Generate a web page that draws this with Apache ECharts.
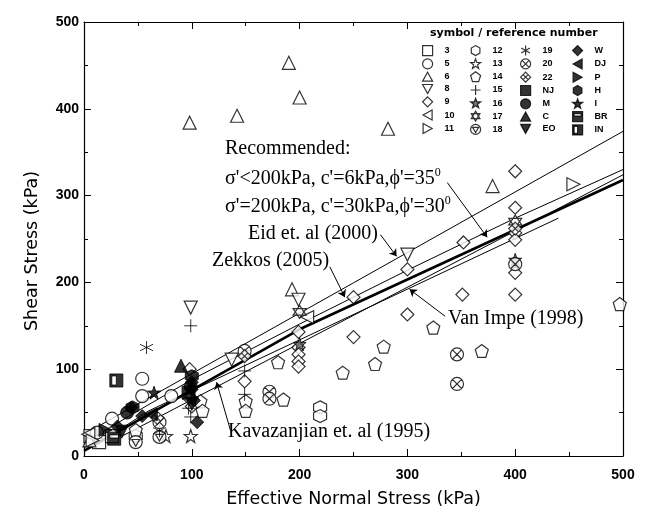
<!DOCTYPE html>
<html>
<head>
<meta charset="utf-8">
<script src="https://cdn.jsdelivr.net/npm/echarts@6/dist/echarts.min.js"></script>
<style>
  html, body { margin: 0; padding: 0; background: #fff; }
  #main { width: 648px; height: 513px; }
</style>
</head>
<body>
<div id="main"></div>
<script>
// axis ticks
var xTicks = [0, 100, 200, 300, 400, 500];
var yTicks = [0, 100, 200, 300, 400, 500];

// data points, [effective normal stress, shear stress] in kPa
var ref3 = [[6, 23], [14, 16], [26, 23]];
var ref5 = [[12, 27], [26, 43], [54, 89], [54, 69], [81, 69]];
var ref6 = [[98, 384], [142, 392], [190, 453], [200, 413], [282, 377], [379, 311], [193, 192], [5, 18]];
var ref8 = [[99, 171], [199, 180], [300, 232], [137, 111]];
var ref9 = [[400, 328], [400, 286], [400, 257], [400, 249], [352, 246], [300, 215], [400, 211], [351, 186],
            [400, 186], [300, 163], [250, 183], [250, 137], [199, 143], [199, 125], [199, 117], [199, 109],
            [199, 103], [149, 86], [98, 100], [98, 66], [100, 57]];
var ref10 = [[207, 160], [4, 25]];
var ref11 = [[454, 313], [8, 18]];
var ref12 = [[219, 56], [219, 46], [48, 23]];
var ref13 = [[76, 23], [99, 23]];
var ref14 = [[180, 108], [240, 96], [270, 106], [278, 126], [324, 148], [369, 121], [497, 175], [185, 65],
             [150, 63], [150, 52], [108, 63], [110, 52], [48, 30]];
var ref15 = [[99, 150], [99, 45], [149, 98], [149, 71], [97, 55]];
var ref16 = [[400, 226], [200, 129]];
var ref17 = [[400, 270], [200, 166]];
var ref18 = [[48, 16], [70, 22]];
var ref19 = [[58, 125], [70, 29]];
var ref20 = [[172, 74], [172, 66], [346, 117], [346, 83], [149, 121], [400, 221], [70, 39]];
var ref22 = [[149, 115], [400, 262], [68, 44]];
var refNJ = [[97, 73]];
var refM = [[99, 80], [40, 50]];
var refC = [[90, 104]];
var refEO = [[35, 28], [100, 60]];
var refW = [[100, 85], [100, 77], [105, 39], [44, 56], [31, 34], [54, 46], [102, 64]];
var refDJ = [[62, 48]];
var refP = [[20, 30]];
var refH = [[45, 56], [100, 92]];
var refI = [[65, 73]];
var refBR = [[28, 20]];
var refIN = [[30, 87]];

// strength envelopes
var eidLine = [[0, 25], [500, 374]];
var zekkosLine = [[0, 15], [50, 52], [100, 88], [200, 152], [300, 214], [400, 274], [500, 330]];
var recLine = [[0, 6], [200, 146], [500, 318]];
var kavLine = [[0, 24], [37, 24], [500, 324]];
var vanImpeLine = [[0, 20], [20, 20], [60, 52], [440, 274]];

// leader arrows (from label to envelope)
var recArrow = [[337, 315], [374, 252]];
var eidArrow = [[275, 255], [290, 230]];
var zekkosArrow = [[228, 218], [242, 183]];
var vanImpeArrow = [[335, 161], [302, 192]];
var kavArrow = [[136, 29], [123, 85]];

var star = 'M5,0L6.18,3.38L9.76,3.45L6.9,5.62L7.94,9.05L5,7L2.06,9.05L3.1,5.62L0.24,3.45L3.82,3.38Z';
var circ = 'M10,5A5,5,0,1,1,0,5A5,5,0,1,1,10,5Z';
var dia = 'M5,0L10,5L5,10L0,5Z';
var shp = {
  square: 'path://M0,0L10,0L10,10L0,10Z',
  circle: 'path://' + circ,
  triUp: 'path://M5,0L10,9L0,9Z',
  triDown: 'path://M0,0L10,0L5,9Z',
  triLeft: 'path://M0,5L9,0L9,10Z',
  triRight: 'path://M0,0L9,5L0,10Z',
  diamond: 'path://' + dia,
  hexagon: 'path://M5,0L9.3,2.5L9.3,7.5L5,10L0.7,7.5L0.7,2.5Z',
  pentagon: 'path://M5,0L10,3.8L8.1,10L1.9,10L0,3.8Z',
  star: 'path://' + star,
  plus: 'path://M5,0L5,10M0,5L10,5',
  asterisk: 'path://M5,0L5,10M0.7,2.5L9.3,7.5M0.7,7.5L9.3,2.5',
  hexagram: 'path://M5,0L9.3,7.5L0.7,7.5ZM5,10L0.7,2.5L9.3,2.5Z',
  circleX: 'path://' + circ + 'M1.5,1.5L8.5,8.5M8.5,1.5L1.5,8.5',
  circleTri: 'path://' + circ + 'M2,3L8,3L5,8.2Z',
  diamondX: 'path://' + dia + 'M2.5,2.5L7.5,7.5M7.5,2.5L2.5,7.5',
  squareBR: 'path://M0,0L10,0L10,10L0,10ZM1.5,2L1.5,4.5L8.5,4.5L8.5,2Z',
  squareIN: 'path://M0,0L10,0L10,10L0,10ZM1.5,1.5L1.5,8.5L5,8.5L5,1.5Z'
};

var hollow = { color: '#fff', borderColor: '#000', borderWidth: 1.2 };
var solid = { color: '#000', borderColor: '#000', borderWidth: 1 };
var grey = { color: '#555', borderColor: '#000', borderWidth: 1 };

var refs = [
  ['3', ref3, shp.square, hollow], ['5', ref5, shp.circle, hollow], ['6', ref6, shp.triUp, hollow],
  ['8', ref8, shp.triDown, hollow], ['9', ref9, shp.diamond, hollow], ['10', ref10, shp.triLeft, hollow],
  ['11', ref11, shp.triRight, hollow],
  ['12', ref12, shp.hexagon, hollow], ['13', ref13, shp.star, hollow], ['14', ref14, shp.pentagon, hollow],
  ['15', ref15, shp.plus, solid], ['16', ref16, shp.star, grey], ['17', ref17, shp.hexagram, hollow],
  ['18', ref18, shp.circleTri, hollow],
  ['19', ref19, shp.asterisk, solid], ['20', ref20, shp.circleX, hollow], ['22', ref22, shp.diamondX, hollow],
  ['NJ', refNJ, shp.square, solid], ['M', refM, shp.circle, solid], ['C', refC, shp.triUp, solid],
  ['EO', refEO, shp.triDown, solid],
  ['W', refW, shp.diamond, solid], ['DJ', refDJ, shp.triLeft, solid], ['P', refP, shp.triRight, solid],
  ['H', refH, shp.hexagon, solid], ['I', refI, shp.star, solid], ['BR', refBR, shp.squareBR, solid],
  ['IN', refIN, shp.squareIN, solid]
];

var series = [];
function envelope(data, w) {
  series.push({ type: 'line', data: data, symbol: 'none', z: 1,
    lineStyle: { color: '#000', width: w } });
}
envelope(eidLine, 1);
envelope(zekkosLine, 1);
envelope(kavLine, 1);
envelope(vanImpeLine, 1);
envelope(recLine, 2.6);

[recArrow, eidArrow, zekkosArrow, vanImpeArrow, kavArrow].forEach(function (a) {
  series.push({ type: 'lines', coordinateSystem: 'cartesian2d', z: 4,
    symbol: ['none', 'arrow'], symbolSize: 7,
    lineStyle: { color: '#000', width: 1, opacity: 1 },
    data: [{ coords: a }] });
});

refs.forEach(function (r) {
  series.push({ type: 'scatter', name: r[0], data: r[1], symbol: r[2], symbolSize: 13,
    itemStyle: r[3], z: 3 });
});

var legendFont = { fontSize: 9, fontWeight: 'bold', fontFamily: 'Liberation Sans', color: '#000',
  lineHeight: 10, padding: [0, 0, 0, 7] };
var legendCols = [[422, 0], [470, 7], [520, 14], [572, 21]];
var legends = legendCols.map(function (c) {
  return {
    orient: 'vertical', left: c[0], top: 45, itemWidth: 10, itemHeight: 10, itemGap: 2.1,
    selectedMode: false, padding: 0,
    data: refs.slice(c[1], c[1] + 7).map(function (r) { return r[0]; }),
    textStyle: legendFont,
    itemStyle: { borderColor: 'inherit', borderWidth: 1.2 }
  };
});

var serif = '20px "Liberation Serif"';
var rich = { sup: { fontSize: 12, fontFamily: 'Liberation Serif', verticalAlign: 'top', padding: [0, 0, 12, 0] } };
function label(x, y, text) {
  return { type: 'text', left: x, top: y, z: 10,
    style: { text: text, font: serif, fill: '#000', rich: rich } };
}

function axisX(pos, show) {
  return {
    type: 'value', min: 0, max: 500, interval: 100, position: pos,
    axisLine: { show: true, onZero: false, lineStyle: { color: '#000', width: 1.2 } },
    axisTick: { show: true, inside: true, length: 7, lineStyle: { color: '#000' } },
    minorTick: { show: true, splitNumber: 2, length: 4, lineStyle: { color: '#000' } },
    splitLine: { show: false },
    axisLabel: { show: show, color: '#000', fontSize: 14, fontWeight: 'bold', fontFamily: 'Liberation Sans', margin: 12 },
    name: show ? 'Effective Normal Stress (kPa)' : '', nameLocation: 'middle', nameGap: 34,
    nameTextStyle: { fontSize: 17.5, color: '#000', fontFamily: 'DejaVu Sans' }
  };
}
function axisY(pos, show) {
  return {
    type: 'value', min: 0, max: 500, interval: 100, position: pos,
    axisLine: { show: true, onZero: false, lineStyle: { color: '#000', width: 1.2 } },
    axisTick: { show: true, inside: true, length: 7, lineStyle: { color: '#000' } },
    minorTick: { show: true, splitNumber: 2, length: 4, lineStyle: { color: '#000' } },
    splitLine: { show: false },
    axisLabel: { show: show, color: '#000', fontSize: 14, fontWeight: 'bold', fontFamily: 'Liberation Sans', margin: 5 },
    name: show ? 'Shear Stress (kPa)' : '', nameLocation: 'middle', nameGap: 43,
    nameTextStyle: { fontSize: 17.5, color: '#000', fontFamily: 'DejaVu Sans', padding: [0, 24, 0, 0] }
  };
}

var chartDom = document.getElementById('main');
var myChart = echarts.init(chartDom);
var option;

option = {
  animation: false,
  backgroundColor: '#fff',
  grid: { left: 84, right: 25, top: 22, bottom: 56 },
  xAxis: [axisX('bottom', true), axisX('top', false)],
  yAxis: [axisY('left', true), axisY('right', false)],
  legend: legends,
  graphic: [
    { type: 'text', left: 430, top: 28, z: 10,
      style: { text: 'symbol / reference number', font: 'bold 11px "DejaVu Sans"', fill: '#000' } },
    label(225, 139, 'Recommended:'),
    label(225, 167, "σ'<200kPa, c'=6kPa,ϕ'=35{sup|0}"),
    label(225, 195, "σ'=200kPa, c'=30kPa,ϕ'=30{sup|0}"),
    label(248, 224, 'Eid et. al (2000)'),
    label(212, 251, 'Zekkos (2005)'),
    label(448, 309, 'Van Impe (1998)'),
    label(228, 422, 'Kavazanjian et. al (1995)')
  ],
  series: series
};

option && myChart.setOption(option);
</script>
</body>
</html>
